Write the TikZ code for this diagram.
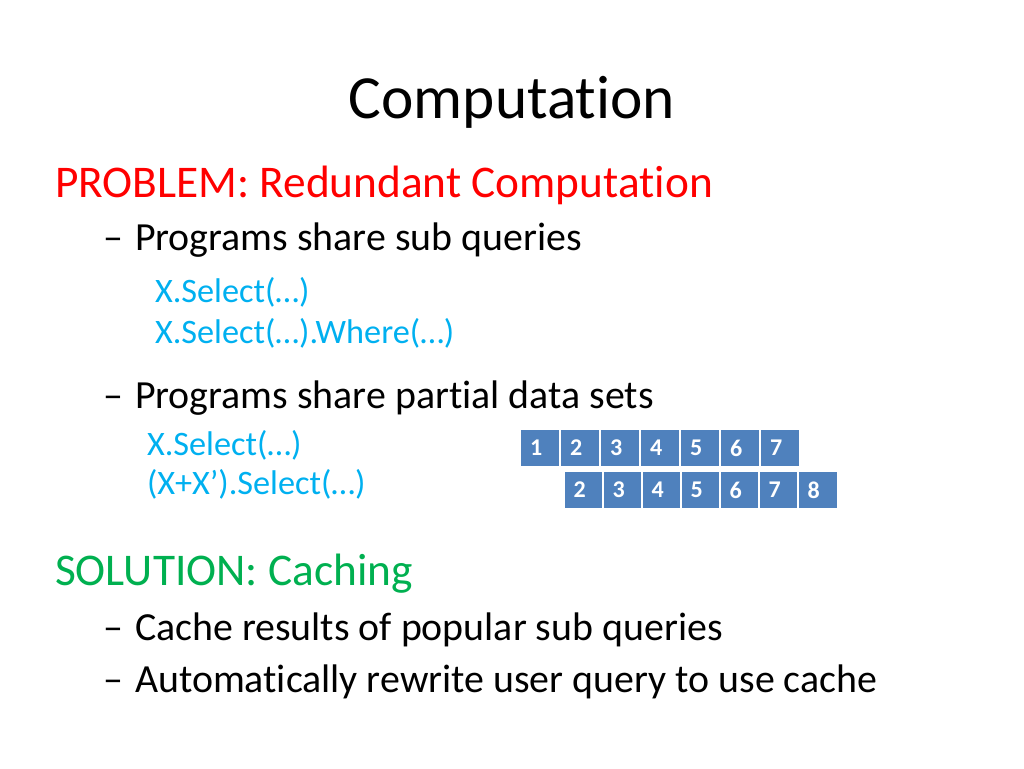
\documentclass[tikz,border=0pt]{standalone}
\usepackage{fontspec}
\setmainfont{Carlito}[RawFeature={-liga;-clig;-calt;-dlig}]
\usetikzlibrary{positioning}
\definecolor{probred}{RGB}{255,0,0}
\definecolor{solgreen}{RGB}{0,176,80}
\definecolor{codeblue}{RGB}{0,176,240}
\definecolor{cellblue}{RGB}{79,129,189}

\begin{document}
\begin{tikzpicture}[x=0.75pt,y=-0.75pt,
    txt/.style={anchor=base west,inner sep=0pt,outer sep=0pt},
    head/.style={txt,font=\fontsize{34}{40}\selectfont},
    item/.style={txt,font=\fontsize{29.9}{35}\selectfont},
    code/.style={txt,text=codeblue,font=\fontsize{25.7}{30}\selectfont},
    cell/.style={fill=cellblue,draw=white,line width=1.5pt,minimum width=30pt,
      minimum height=29pt,inner sep=0pt,text width=15pt,align=left,
      text=white,font=\bfseries\fontsize{18}{20}\selectfont}]
    \fill[white] (0,0) rectangle (1024,768);
    \useasboundingbox (0,0) rectangle (1024,768);
    \node[anchor=base,inner sep=0pt,font=\fontsize{46}{55}\selectfont] (title) at (512,118) {Computation};
    \node[head,text=probred] (problem) at (55,197) {PROBLEM: Redundant Computation};
    \node[item] (subqbul) at (103,250) {–};
    \node[item] (subq) at (135,250) {Programs share sub queries};
    \node[code] (codea) at (155,302) {X.Select(…)};
    \node[code] (codeb) at (155,343) {X.Select(…).Where(…)};
    \node[item] (partialbul) at (103,408) {–};
    \node[item] (partial) at (135,408) {Programs share partial data sets};
    \node[code] (codec) at (147,455) {X.Select(…)};
    \node[code] (coded) at (147,494) {(X+X’).Select(…)};
    % data set cells
    \foreach \i in {1,...,7}
        \node[cell] (a\i) at ({500+40*\i},448) {\i};
    \foreach \i in {2,...,8}
        \node[cell] (b\i) at ({505.5+39*\i},490) {\i};
    \node[head,text=solgreen] (solution) at (55,585) {SOLUTION: Caching};
    \node[item] (cachebul) at (103,640) {–};
    \node[item] (cache) at (135,640) {Cache results of popular sub queries};
    \node[item] (rewritebul) at (103,692) {–};
    \node[item] (rewrite) at (135,692) {Automatically rewrite user query to use cache};
\end{tikzpicture}
\end{document}
